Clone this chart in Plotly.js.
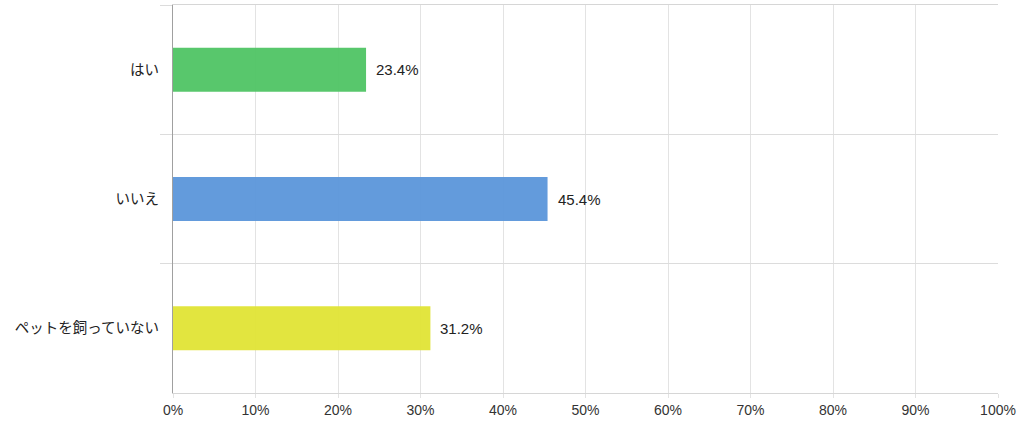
<!DOCTYPE html>
<html>
<head>
<meta charset="utf-8">
<script src="https://cdn.plot.ly/plotly-3.0.1.min.js"></script>
<style>
  html, body { margin: 0; padding: 0; background: #fff; }
  #chart { width: 1024px; height: 428px; }
</style>
</head>
<body>
<div id="chart"></div>
<script>
var answers = ['はい', 'いいえ', 'ペットを飼っていない'];
var shares = [23.4, 45.4, 31.2];
var barColors = ['#4fc464', '#5b96da', '#e0e435'];

var trace = {
  type: 'bar',
  orientation: 'h',
  x: shares,
  y: answers,
  marker: { color: barColors, opacity: 0.95 },
  hoverinfo: 'none'
};

// value labels to the right of each bar
var labels = answers.map(function(a, i) {
  return {
    x: shares[i], y: a,
    xref: 'x', yref: 'y',
    text: shares[i].toFixed(1) + '%',
    showarrow: false,
    xanchor: 'left',
    xshift: 8,
    font: { family: 'Liberation Sans, Arial, sans-serif', size: 15, color: '#222' }
  };
});

var layout = {
  width: 1024,
  height: 428,
  margin: { l: 173, r: 26, t: 5, b: 35 },
  paper_bgcolor: '#fff',
  plot_bgcolor: '#fff',
  font: { family: 'Liberation Sans, Arial, Noto Sans CJK JP, sans-serif', size: 14, color: '#333' },
  showlegend: false,
  bargap: 0.66,
  annotations: labels,
  xaxis: {
    range: [0, 100],
    dtick: 10,
    ticksuffix: '%',
    showgrid: true,
    gridcolor: '#e3e3e3',
    ticks: 'outside',
    ticklen: 4,
    tickcolor: '#e3e3e3',
    zeroline: false,
    showline: true,
    mirror: true,
    linecolor: '#d6d6d6',
    tickfont: { size: 14, color: '#333' },
    fixedrange: true
  },
  yaxis: {
    type: 'category',
    autorange: 'reversed',
    tickson: 'boundaries',
    showgrid: true,
    gridcolor: '#dcdcdc',
    ticks: 'outside',
    ticklen: 12,
    tickcolor: '#dcdcdc',
    ticklabelstandoff: 10,
    showline: true,
    linecolor: '#a0a0a0',
    linewidth: 1,
    tickfont: { family: 'Noto Sans CJK JP, sans-serif', size: 14.5, color: '#222' },
    fixedrange: true
  }
};

Plotly.newPlot('chart', [trace], layout, { displayModeBar: false, staticPlot: true });
</script>
</body>
</html>
